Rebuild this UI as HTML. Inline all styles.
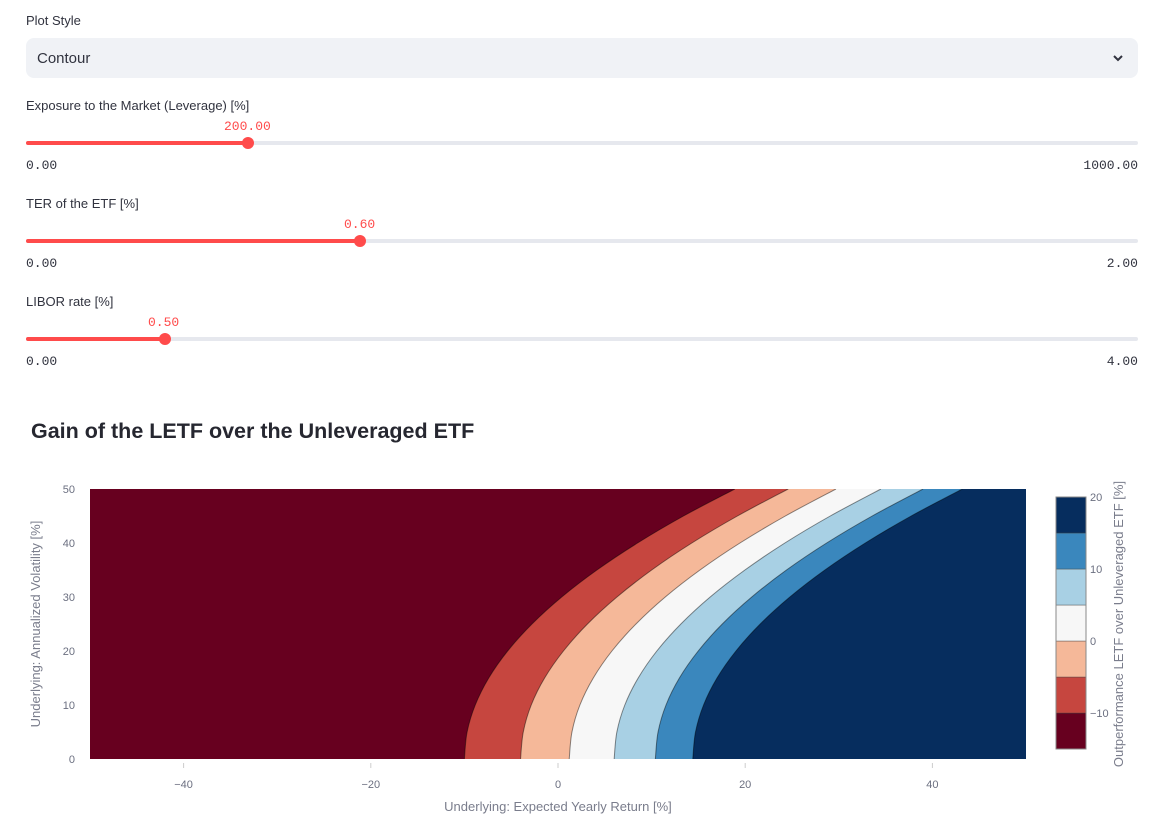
<!DOCTYPE html>
<html><head><meta charset="utf-8">
<style>
body{margin:0;width:1164px;height:832px;background:#fff;font-family:"Liberation Sans",sans-serif;color:#31333f;position:relative;overflow:hidden}
.lbl{position:absolute;left:26px;font-size:13px;color:#31333f}
.mono{position:absolute;font-family:"Liberation Mono",monospace;font-size:13px}
.track{position:absolute;left:26px;width:1112px;height:4px;background:#e6e8ee;border-radius:2px}
.fill{position:absolute;left:0;top:0;height:4px;background:#ff4b4b;border-radius:2px}
.thumb{position:absolute;width:12px;height:12px;border-radius:50%;background:#ff4b4b;top:-4px;margin-left:-6px}
</style></head><body>
<div class="lbl" style="top:13px">Plot Style</div>
<div style="position:absolute;left:26px;top:38px;width:1112px;height:40px;background:#f0f2f6;border-radius:8px">
<span style="position:absolute;left:11px;top:12px;font-size:15px">Contour</span>
<svg style="position:absolute;right:14px;top:15px" width="12" height="10" viewBox="0 0 12 10"><path d="M2 3 L6 7 L10 3" fill="none" stroke="#31333f" stroke-width="2"/></svg>
</div>

<div class="lbl" style="top:98px">Exposure to the Market (Leverage) [%]</div>
<div class="mono" style="top:119px;left:224px;color:#ff4b4b">200.00</div>
<div class="track" style="top:141px"><div class="fill" style="width:222px"></div><div class="thumb" style="left:222px"></div></div>
<div class="mono" style="top:158px;left:26px">0.00</div>
<div class="mono" style="top:158px;right:26px">1000.00</div>

<div class="lbl" style="top:196px">TER of the ETF [%]</div>
<div class="mono" style="top:217px;left:344px;color:#ff4b4b">0.60</div>
<div class="track" style="top:239px"><div class="fill" style="width:334px"></div><div class="thumb" style="left:334px"></div></div>
<div class="mono" style="top:256px;left:26px">0.00</div>
<div class="mono" style="top:256px;right:26px">2.00</div>

<div class="lbl" style="top:294px">LIBOR rate [%]</div>
<div class="mono" style="top:315px;left:148px;color:#ff4b4b">0.50</div>
<div class="track" style="top:337px"><div class="fill" style="width:139px"></div><div class="thumb" style="left:139px"></div></div>
<div class="mono" style="top:354px;left:26px">0.00</div>
<div class="mono" style="top:354px;right:26px">4.00</div>

<div style="position:absolute;left:31px;top:419px;font-size:21.5px;font-weight:bold;color:#262730">Gain of the LETF over the Unleveraged ETF</div>

<svg id="chart" width="1164" height="832" style="position:absolute;left:0;top:0;pointer-events:none" font-family="Liberation Sans, sans-serif"></svg>
<script>
const levels=[-10,-5,0,5,10,15];
const sigmas=[0,5,10,15,20,25,30,35,40,45,50];
const bLm10=[-10.0,-9.71,-8.84,-7.40,-5.38,-2.78,0.40,4.16,8.50,13.41,18.9];
const bLm5=[-4.0,-3.71,-2.86,-1.43,0.58,3.15,6.30,10.01,14.30,19.17,24.6];
const bL0=[1.2,1.49,2.34,3.77,5.76,8.33,11.46,15.17,19.44,24.29,29.7];
const bL5=[6.0,6.29,7.14,8.57,10.56,13.13,16.26,19.97,24.24,29.09,34.5];
const bL10=[10.4,10.69,11.54,12.97,14.98,17.55,20.70,24.41,28.70,33.57,39.0];
const bL15=[14.4,14.69,15.55,16.99,19.01,21.60,24.77,28.51,32.83,37.73,43.2];
const boundaries=[bLm10,bLm5,bL0,bL5,bL10,bL15];
const xTicks=[-40,-20,0,20,40];
const yTicks=[0,10,20,30,40,50];
const cbTicks=[-10,0,10,20];
const colors=['#67001f','#c6463f','#f5b899','#f7f7f7','#a8d0e4','#3a87bd','#062d5e'];

const NS='http://www.w3.org/2000/svg';
const svg=document.getElementById('chart');
const X0=90,X1=1026,Y0=759,Y1=489;
const sx=v=>X0+(v+50)/100*(X1-X0);
const sy=v=>Y0-(v/50)*(Y0-Y1);
function mk(t,a){const e=document.createElementNS(NS,t);for(const k in a)e.setAttribute(k,a[k]);svg.appendChild(e);return e;}
function curve(b){
  const p=sigmas.map((s,i)=>[sx(b[i]),sy(s)]);
  let d='M'+p[0][0]+' '+p[0][1];
  for(let i=0;i<p.length-1;i++){
    const p0=p[Math.max(i-1,0)],p1=p[i],p2=p[i+1],p3=p[Math.min(i+2,p.length-1)];
    const c1=[p1[0]+(p2[0]-p0[0])/6,p1[1]+(p2[1]-p0[1])/6];
    const c2=[p2[0]-(p3[0]-p1[0])/6,p2[1]-(p3[1]-p1[1])/6];
    d+=` C${c1[0]} ${c1[1]} ${c2[0]} ${c2[1]} ${p2[0]} ${p2[1]}`;
  }
  return d;
}
mk('defs',{}).innerHTML='<clipPath id="pc"><rect x="'+X0+'" y="'+Y1+'" width="'+(X1-X0)+'" height="'+(Y0-Y1)+'"/></clipPath>';
const g=mk('g',{'clip-path':'url(#pc)'});
let r=document.createElementNS(NS,'rect');
r.setAttribute('x',X0);r.setAttribute('y',Y1);r.setAttribute('width',X1-X0);r.setAttribute('height',Y0-Y1);r.setAttribute('fill',colors[0]);


g.appendChild(r);
boundaries.forEach((b,i)=>{
  const c=curve(b);
  const band=document.createElementNS(NS,'path');
  band.setAttribute('d',c+` L${X1+50} ${sy(50)} L${X1+50} ${sy(0)} Z`);
  band.setAttribute('fill',colors[i+1]);
  
  
  g.appendChild(band);
  const ln=document.createElementNS(NS,'path');
  ln.setAttribute('d',c);ln.setAttribute('fill','none');ln.setAttribute('stroke','rgba(0,0,0,0.45)');ln.setAttribute('stroke-width','1');
  
  
  g.appendChild(ln);
});
xTicks.forEach(v=>{
  const t=mk('text',{x:sx(v),y:788,'text-anchor':'middle','font-size':11,fill:'#6b6f80'});
  t.textContent=(v<0?'\u2212'+(-v):v);
  
  
  mk('line',{x1:sx(v),x2:sx(v),y1:763,y2:768,stroke:'#ccc'});
});
yTicks.forEach(v=>{
  const t=mk('text',{x:75,y:sy(v)+4,'text-anchor':'end','font-size':11,fill:'#6b6f80'});
  t.textContent=v;
  
  
});
let xt=mk('text',{x:558,y:811,'text-anchor':'middle','font-size':13,fill:'#7a7d8c'});
xt.textContent='Underlying: Expected Yearly Return [%]';


let yt=mk('text',{x:0,y:0,transform:'translate(40,624) rotate(-90)','text-anchor':'middle','font-size':13,fill:'#7a7d8c'});
yt.textContent='Underlying: Annualized Volatility [%]';


const CB0=-15,CB1=20,CBY0=749,CBY1=497,CBX=1056,CBW=30;
const cy=v=>CBY0-(v-CB0)/(CB1-CB0)*(CBY0-CBY1);
const cbEdges=[-15].concat(levels).concat([20]);
for(let i=0;i<colors.length;i++){
  const rc=mk('rect',{x:CBX,y:cy(cbEdges[i+1]),width:CBW,height:cy(cbEdges[i])-cy(cbEdges[i+1]),fill:colors[i],stroke:'#444','stroke-width':0.4});
  
  
}
mk('rect',{x:CBX,y:CBY1,width:CBW,height:CBY0-CBY1,fill:'none',stroke:'#888','stroke-width':1});
cbTicks.forEach(v=>{
  const t=mk('text',{x:1090,y:cy(v)+4,'font-size':11,fill:'#6b6f80'});
  t.textContent=(v<0?'\u2212'+(-v):v);
  
  
});
let ct=mk('text',{x:0,y:0,transform:'translate(1123,624) rotate(-90)','text-anchor':'middle','font-size':13,fill:'#7a7d8c'});
ct.textContent='Outperformance LETF over Unleveraged ETF [%]';


</script>
</body></html>
